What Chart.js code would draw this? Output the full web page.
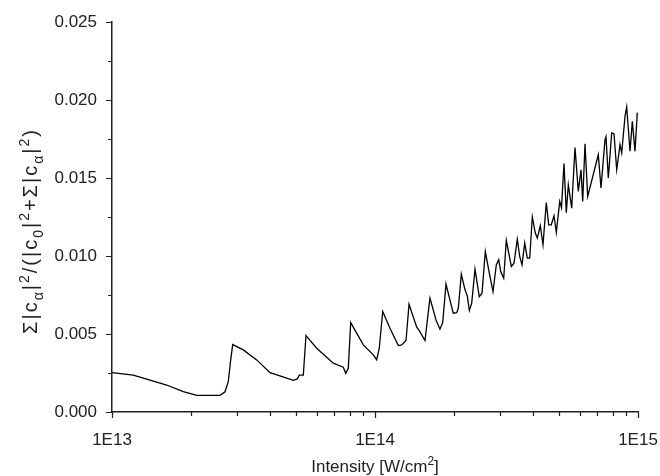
<!DOCTYPE html>
<html>
<head>
<meta charset="utf-8">
<script src="https://cdn.jsdelivr.net/npm/chart.js@4.4.0/dist/chart.umd.min.js"></script>
<style>
  html, body { margin: 0; padding: 0; background: #fff; }
</style>
</head>
<body>
<canvas id="grafico" width="660" height="476"></canvas>
<script>
// Intensidad del láser (W/cm2) y población de los estados excitados
const intensidad = [
  1.000e13, 1.205e13, 1.395e13, 1.614e13, 1.867e13, 2.100e13, 2.359e13, 2.574e13, 2.690e13, 2.768e13,
  2.827e13, 2.877e13, 3.157e13, 3.549e13, 3.989e13, 4.353e13, 4.891e13, 5.066e13, 5.155e13, 5.338e13,
  5.465e13, 6.003e13, 6.940e13, 7.577e13, 7.738e13, 7.915e13, 8.083e13, 9.026e13, 9.851e13, 1.015e14,
  1.038e14, 1.070e14, 1.140e14, 1.226e14, 1.263e14, 1.312e14, 1.347e14, 1.441e14, 1.473e14, 1.549e14,
  1.618e14, 1.706e14, 1.766e14, 1.809e14, 1.862e14, 1.940e14, 1.985e14, 2.045e14, 2.074e14, 2.129e14,
  2.199e14, 2.244e14, 2.284e14, 2.332e14, 2.400e14, 2.492e14, 2.552e14, 2.627e14, 2.706e14, 2.810e14,
  2.892e14, 2.953e14, 3.006e14, 3.086e14, 3.157e14, 3.299e14, 3.377e14, 3.476e14, 3.550e14, 3.622e14,
  3.709e14, 3.794e14, 3.875e14, 3.964e14, 4.069e14, 4.141e14, 4.251e14, 4.353e14, 4.480e14, 4.576e14,
  4.681e14, 4.793e14, 4.891e14, 5.039e14, 5.118e14, 5.231e14, 5.338e14, 5.433e14, 5.596e14, 5.761e14,
  5.929e14, 6.072e14, 6.162e14, 6.288e14, 6.437e14, 7.063e14, 7.233e14, 7.490e14, 7.556e14, 7.711e14,
  7.943e14, 8.104e14, 8.299e14, 8.543e14, 8.670e14, 8.925e14, 9.057e14, 9.325e14, 9.514e14, 9.741e14,
  9.938e14
];
const poblacion = [
  0.00252, 0.00237, 0.00205, 0.00173, 0.00130, 0.00107, 0.00106, 0.00107, 0.00130, 0.00194,
  0.00334, 0.00432, 0.00398, 0.00334, 0.00252, 0.00231, 0.00203, 0.00212, 0.00236, 0.00237,
  0.00490, 0.00409, 0.00313, 0.00287, 0.00248, 0.00280, 0.00573, 0.00430, 0.00366, 0.00334,
  0.00409, 0.00644, 0.00537, 0.00426, 0.00430, 0.00458, 0.00691, 0.00544, 0.00522, 0.00458,
  0.00730, 0.00590, 0.00531, 0.00573, 0.00820, 0.00698, 0.00633, 0.00637, 0.00666, 0.00884,
  0.00783, 0.00744, 0.00650, 0.00698, 0.00916, 0.00740, 0.00762, 0.01029, 0.00911, 0.00772,
  0.00943, 0.00976, 0.00900, 0.00858, 0.01099, 0.00933, 0.00954, 0.01108, 0.00997, 0.00943,
  0.01083, 0.00986, 0.00986, 0.01250, 0.01147, 0.01115, 0.01194, 0.01072, 0.01343, 0.01200,
  0.01200, 0.01258, 0.01151, 0.01350, 0.01309, 0.01592, 0.01277, 0.01457, 0.01307, 0.01696,
  0.01414, 0.01553, 0.01350, 0.01720, 0.01382, 0.01649, 0.01436, 0.01746, 0.01765, 0.01500,
  0.01789, 0.01784, 0.01553, 0.01714, 0.01660, 0.01895, 0.01956, 0.01671, 0.01863, 0.01671,
  0.01919
];

// Marcas de los ejes
const marcasY = [0, 0.005, 0.010, 0.015, 0.020, 0.025];
const decadasX = [1e13, 1e14, 1e15];
const etiquetasX = ['1E13', '1E14', '1E15'];

const FUENTE = '"Liberation Sans", Arial, sans-serif';
const COLOR_EJE = '#222';

// Escribe un texto con subíndices y superíndices centrado en (0, 0)
function textoCompuesto(ctx, partes, tam, esp) {
  const normal = tam + 'px ' + FUENTE;
  const chica = Math.round(tam * 0.68) + 'px ' + FUENTE;
  const letras = [];
  partes.forEach(p => {
    for (const ch of p[0]) letras.push([ch, p[1]]);
  });
  let total = 0;
  letras.forEach(l => {
    ctx.font = l[1] === 'n' ? normal : chica;
    total += ctx.measureText(l[0]).width + esp;
  });
  total -= esp;
  let x = -total / 2;
  const base = tam * 0.36;
  letras.forEach(l => {
    ctx.font = l[1] === 'n' ? normal : chica;
    let dy = 0;
    if (l[1] === 'sup') dy = -tam * 0.42;
    if (l[1] === 'sub') dy = tam * 0.28;
    ctx.fillText(l[0], x, base + dy);
    x += ctx.measureText(l[0]).width + esp;
  });
}

// Plugin: marcas mayores y menores hacia afuera, y títulos de los ejes
const ejes = {
  id: 'ejes',
  afterDraw(chart) {
    const ctx = chart.ctx;
    const sx = chart.scales.x, sy = chart.scales.y;
    const a = chart.chartArea;
    ctx.save();
    ctx.strokeStyle = COLOR_EJE;
    ctx.lineWidth = 1.2;
    ctx.beginPath();
    // eje x: décadas y subdivisiones 2..9
    for (let d = 0; d < decadasX.length; d++) {
      const px = Math.round(sx.getPixelForValue(decadasX[d])) + 0.5;
      ctx.moveTo(px, a.bottom);
      ctx.lineTo(px, a.bottom + 6);
      if (d < decadasX.length - 1) {
        for (let m = 2; m < 10; m++) {
          const qx = Math.round(sx.getPixelForValue(decadasX[d] * m)) + 0.5;
          ctx.moveTo(qx, a.bottom);
          ctx.lineTo(qx, a.bottom + 4);
        }
      }
    }
    // eje y: marcas cada 0.005 y menores a la mitad
    for (let i = 0; i < marcasY.length; i++) {
      const py = Math.round(sy.getPixelForValue(marcasY[i])) + 0.5;
      ctx.moveTo(a.left, py);
      ctx.lineTo(a.left - 6, py);
      if (i < marcasY.length - 1) {
        const qy = Math.round(sy.getPixelForValue((marcasY[i] + marcasY[i + 1]) / 2)) + 0.5;
        ctx.moveTo(a.left, qy);
        ctx.lineTo(a.left - 4, qy);
      }
    }
    ctx.stroke();

    ctx.fillStyle = COLOR_EJE;
    ctx.textAlign = 'left';
    ctx.textBaseline = 'alphabetic';
    // título del eje x
    ctx.save();
    ctx.translate((a.left + a.right) / 2, 466);
    textoCompuesto(ctx, [['Intensity [W/cm', 'n'], ['2', 'sup'], [']', 'n']], 17, 0);
    ctx.restore();
    // título del eje y (rotado)
    ctx.save();
    ctx.translate(30, 232);
    ctx.rotate(-Math.PI / 2);
    textoCompuesto(ctx, [
      ['\u03A3|c', 'n'], ['\u03B1', 'sub'], ['|', 'n'], ['2', 'sup'],
      ['/(|c', 'n'], ['0', 'sub'], ['|', 'n'], ['2', 'sup'],
      ['+\u03A3|c', 'n'], ['\u03B1', 'sub'], ['|', 'n'], ['2', 'sup'], [')', 'n']
    ], 20, 2);
    ctx.restore();
    ctx.restore();
  }
};

Chart.defaults.font.family = FUENTE;
Chart.defaults.font.size = 17;
Chart.defaults.color = COLOR_EJE;

const puntos = intensidad.map((v, i) => ({ x: v, y: poblacion[i] }));

new Chart(document.getElementById('grafico'), {
  type: 'line',
  data: {
    datasets: [{
      data: puntos,
      borderColor: '#000',
      borderWidth: 1.3,
      pointRadius: 0,
      tension: 0,
      fill: false
    }]
  },
  options: {
    responsive: false,
    animation: false,
    devicePixelRatio: 1,
    layout: { padding: { top: 22, right: 22, left: 0, bottom: 0 } },
    plugins: { legend: { display: false }, tooltip: { enabled: false } },
    scales: {
      x: {
        type: 'logarithmic',
        min: 1e13,
        max: 1e15,
        grid: { display: false, drawTicks: false },
        border: { display: true, color: COLOR_EJE, width: 1.5 },
        afterBuildTicks: s => { s.ticks = decadasX.map(v => ({ value: v })); },
        ticks: {
          autoSkip: false,
          maxRotation: 0,
          padding: 18,
          callback: (v, i) => etiquetasX[i]
        },
        afterFit: s => { s.height = 64; s.paddingLeft = 0; s.paddingRight = 0; }
      },
      y: {
        min: 0,
        max: 0.025,
        grid: { display: false, drawTicks: false },
        border: { display: true, color: COLOR_EJE, width: 1.5 },
        afterBuildTicks: s => { s.ticks = marcasY.map(v => ({ value: v })); },
        ticks: {
          padding: 15,
          callback: v => v.toFixed(3)
        },
        afterFit: s => { s.width = 112; s.paddingTop = 0; s.paddingBottom = 0; }
      }
    }
  },
  plugins: [ejes]
});
</script>
</body>
</html>
